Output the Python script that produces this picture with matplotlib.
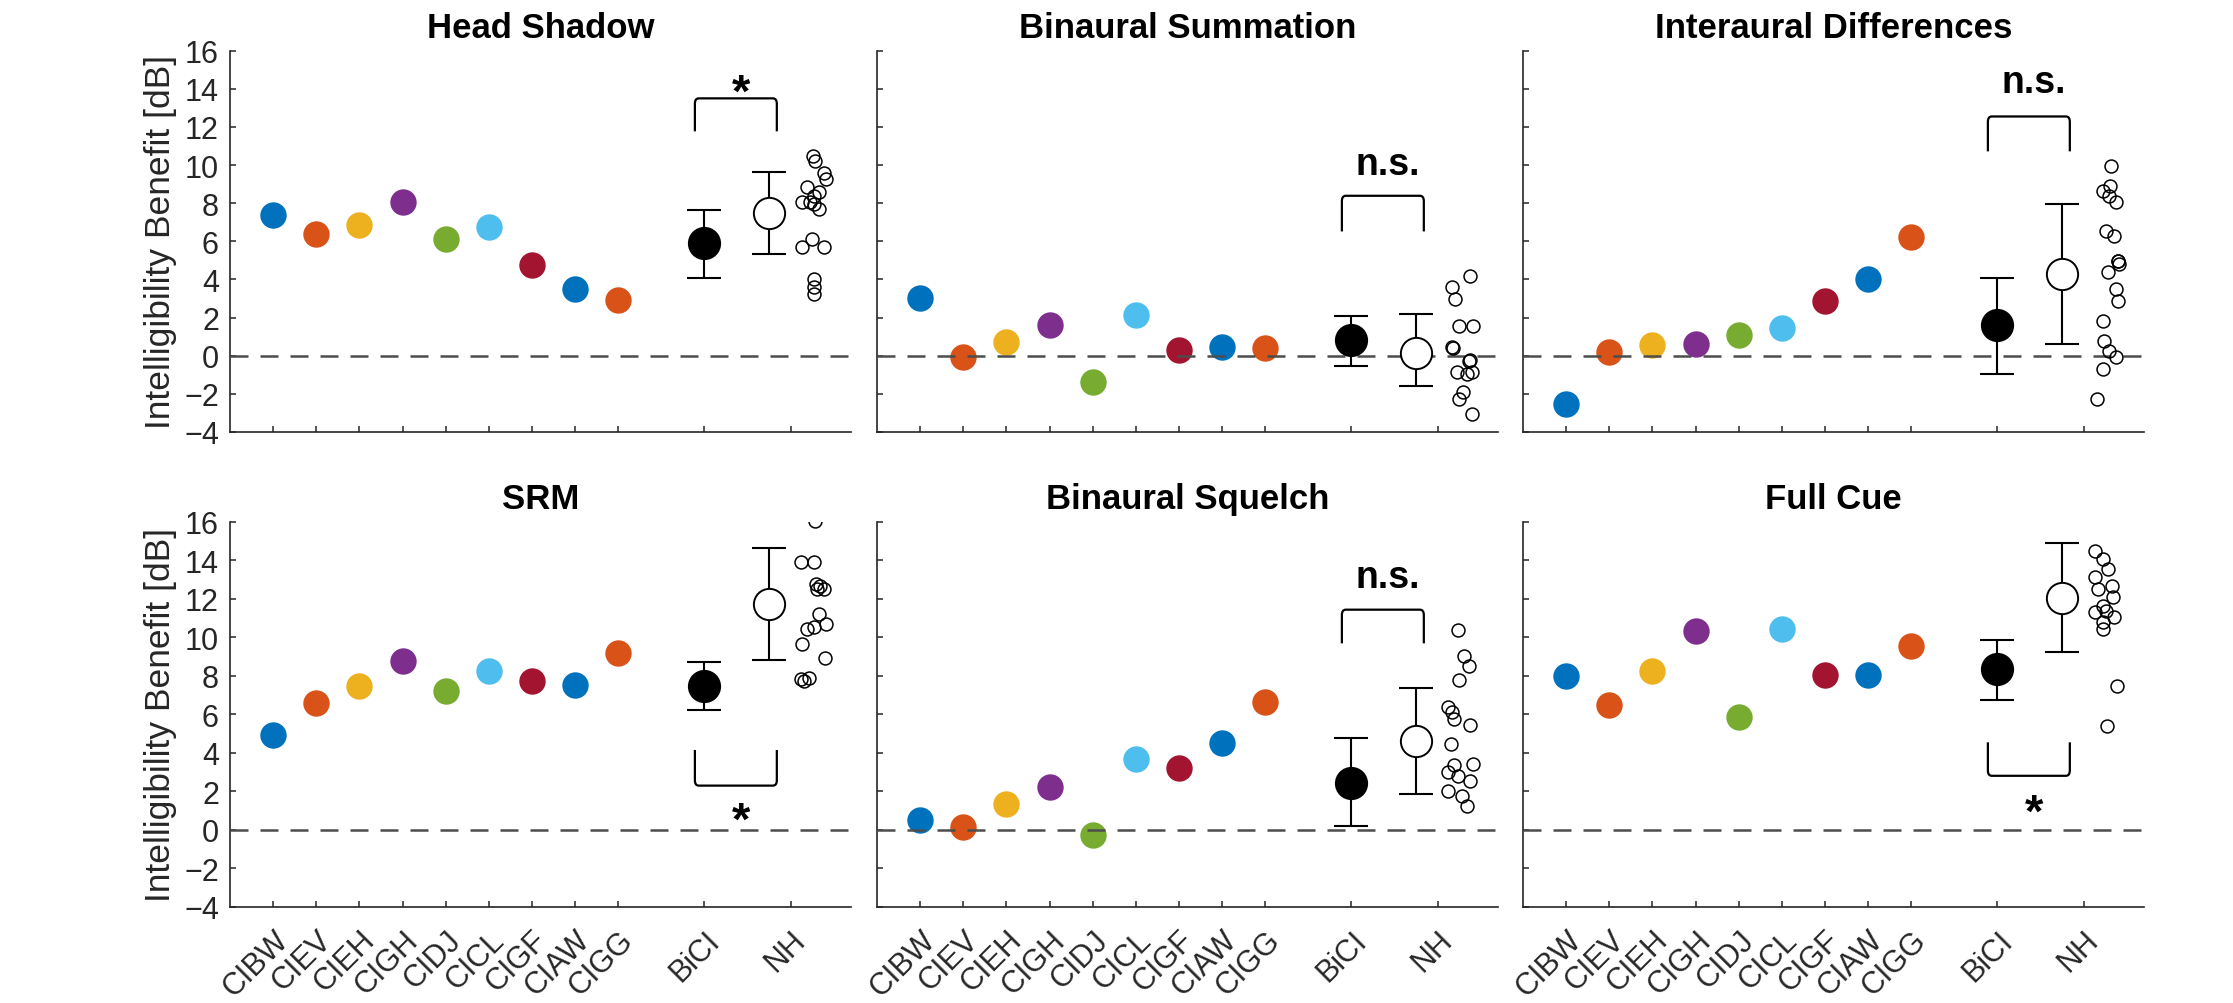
import matplotlib
matplotlib.use('Agg')
import matplotlib.pyplot as plt
from matplotlib.path import Path
from matplotlib.patches import PathPatch
import numpy as np

plt.rcParams['font.family'] = ['Liberation Sans', 'DejaVu Sans']

# ---------------- data ----------------
panel_titles = ["Head Shadow", "Binaural Summation", "Interaural Differences",
                "SRM", "Binaural Squelch", "Full Cue"]
ci_labels = ['CIBW', 'CIEV', 'CIEH', 'CIGH', 'CIDJ', 'CICL', 'CIGF', 'CIAW', 'CIGG']
group_labels = ['BiCI', 'NH']
ci_colors = ['#0072BD', '#D95319', '#EDB120', '#7E2F8E', '#77AC30',
             '#4DBEEE', '#A2142F', '#0072BD', '#D95319']

ci_head_shadow = [7.40, 6.36, 6.85, 8.07, 6.10, 6.74, 4.76, 3.52, 2.91]
ci_summation = [3.05, -0.05, 0.73, 1.60, -1.36, 2.16, 0.31, 0.47, 0.38]
ci_interaural = [-2.53, 0.21, 0.56, 0.64, 1.08, 1.45, 2.87, 4.00, 6.22]
ci_srm = [4.92, 6.58, 7.45, 8.76, 7.21, 8.25, 7.71, 7.50, 9.16]
ci_squelch = [0.52, 0.12, 1.31, 2.23, -0.30, 3.66, 3.23, 4.52, 6.63]
ci_full_cue = [7.98, 6.50, 8.23, 10.34, 5.88, 10.45, 8.02, 8.02, 9.53]

bici_mean = [5.89, 0.80, 1.61, 7.48, 2.45, 8.33]
bici_low = [4.09, -0.52, -0.94, 6.23, 0.19, 6.76]
bici_high = [7.66, 2.10, 4.07, 8.73, 4.78, 9.87]

nh_mean = [7.47, 0.15, 4.28, 11.72, 4.60, 12.06]
nh_low = [5.33, -1.57, 0.63, 8.81, 1.87, 9.25]
nh_high = [9.65, 2.19, 7.95, 14.63, 7.37, 14.88]

nh_head_shadow = [10.49, 10.23, 9.60, 9.27, 8.83, 8.57, 8.40, 8.04, 8.04, 7.69, 7.95,
                  5.68, 6.12, 5.68, 4.02, 3.58, 3.23]
nh_head_shadow_jit = [0.52, 0.56, 0.77, 0.81, 0.39, 0.66, 0.54, 0.27, 0.46, 0.66, 0.54,
                      0.27, 0.49, 0.77, 0.54, 0.54, 0.54]
nh_summation = [4.16, 3.58, 2.97, 1.57, 1.57, 0.44, 0.42, -0.26, -0.20, -0.87, -0.96,
                -0.87, -1.92, -2.27, -3.06]
nh_summation_jit = [0.76, 0.33, 0.41, 0.49, 0.83, 0.33, 0.35, 0.72, 0.74, 0.45, 0.68,
                    0.79, 0.60, 0.49, 0.79]
nh_interaural = [9.97, 8.92, 8.65, 8.39, 8.04, 6.56, 6.29, 4.98, 4.95, 4.81, 4.37,
                 3.50, 2.88, 1.84, 0.79, 0.26, -0.09, -0.70, -2.27]
nh_interaural_jit = [0.63, 0.62, 0.44, 0.59, 0.75, 0.52, 0.71, 0.79, 0.80, 0.83, 0.56,
                     0.75, 0.79, 0.44, 0.48, 0.59, 0.75, 0.44, 0.32]
nh_srm = [16.02, 13.89, 13.92, 12.76, 12.68, 12.50, 12.50, 11.20, 10.68, 10.42, 10.51,
          9.65, 8.92, 7.83, 7.86, 7.74]
nh_srm_jit = [0.56, 0.23, 0.54, 0.58, 0.69, 0.77, 0.62, 0.66, 0.81, 0.39, 0.54,
              0.27, 0.79, 0.23, 0.42, 0.31]
nh_squelch = [10.39, 9.04, 8.52, 7.79, 6.35, 6.10, 5.75, 5.44, 4.45, 3.41, 3.38,
              2.98, 2.55, 2.80, 2.03, 1.77, 1.25]
nh_squelch_jit = [0.47, 0.62, 0.73, 0.50, 0.24, 0.34, 0.39, 0.75, 0.30, 0.82, 0.39,
                  0.24, 0.75, 0.47, 0.24, 0.56, 0.69]
nh_full_cue = [14.49, 14.06, 13.54, 13.11, 12.68, 12.50, 12.07, 11.64, 11.29, 11.38,
               11.03, 10.77, 10.42, 7.48, 5.40]
nh_full_cue_jit = [0.27, 0.46, 0.56, 0.27, 0.65, 0.33, 0.69, 0.46, 0.27, 0.52,
                   0.71, 0.46, 0.46, 0.78, 0.55]

sig_labels = ['*', 'n.s.', 'n.s.', '*', 'n.s.', '*']
bracket_line = [13.50, 8.39, 12.55, 2.29, 11.43, 2.80]
bracket_leg = [11.77, 6.52, 10.72, 4.14, 9.68, 4.54]
sig_text_y = [14.50, 10.03, 14.32, 1.14, 13.10, 1.58]

ci_values = [ci_head_shadow, ci_summation, ci_interaural, ci_srm, ci_squelch, ci_full_cue]
nh_values = [nh_head_shadow, nh_summation, nh_interaural, nh_srm, nh_squelch, nh_full_cue]
nh_jitter = [nh_head_shadow_jit, nh_summation_jit, nh_interaural_jit, nh_srm_jit,
             nh_squelch_jit, nh_full_cue_jit]

# ---------------- layout ----------------
ci_pos = np.arange(1, 10)
bici_pos = 11
nh_tick_pos = 13
nh_mean_pos = 12.5
br_x1, br_x2 = 10.78, 12.68
text_x = 11.85

axis_col = '#262626'

fig = plt.figure(figsize=(22.33, 10.04), dpi=100)
lefts = [230 / 2233, 877 / 2233, 1523 / 2233]
width = 621 / 2233
rows = [(1 - 433 / 1004, (433 - 51.7) / 1004), (1 - 907.7 / 1004, (907.7 - 522.7) / 1004)]


def draw_bracket(ax, x1, x2, yl, yg):
    d = 1 if yl > yg else -1
    rx, ry = 0.09, 0.28
    verts = [(x1, yg), (x1, yl - d * ry), (x1, yl), (x1 + rx, yl),
             (x2 - rx, yl), (x2, yl), (x2, yl - d * ry), (x2, yg)]
    codes = [Path.MOVETO, Path.LINETO, Path.CURVE3, Path.CURVE3,
             Path.LINETO, Path.CURVE3, Path.CURVE3, Path.LINETO]
    ax.add_patch(PathPatch(Path(verts, codes), fill=False, lw=1.6, color='black',
                           zorder=6, capstyle='butt'))


for i in range(6):
    r, c = divmod(i, 3)
    b, h = rows[r]
    ax = fig.add_axes([lefts[c], b, width, h])

    # CI individual dots
    for k in range(9):
        ax.plot(ci_pos[k], ci_values[i][k], 'o', ms=19, mfc=ci_colors[k], mec='none', zorder=2)

    # zero line
    ax.axhline(0, color='#4d4d4d', lw=1.8, dashes=(7.2, 4.8), zorder=3)

    # error bars
    ax.errorbar([bici_pos], [bici_mean[i]],
                yerr=[[bici_mean[i] - bici_low[i]], [bici_high[i] - bici_mean[i]]],
                fmt='none', ecolor='black', elinewidth=1.5, capsize=12, capthick=1.5, zorder=4)
    ax.errorbar([nh_mean_pos], [nh_mean[i]],
                yerr=[[nh_mean[i] - nh_low[i]], [nh_high[i] - nh_mean[i]]],
                fmt='none', ecolor='black', elinewidth=1.5, capsize=12, capthick=1.5, zorder=4)
    ax.plot([bici_pos], [bici_mean[i]], 'o', ms=22.5, mfc='black', mec='black', mew=1.4, zorder=5)
    ax.plot([nh_mean_pos], [nh_mean[i]], 'o', ms=22.5, mfc='white', mec='black', mew=1.4, zorder=5)

    # NH individual
    ax.plot(nh_tick_pos + np.array(nh_jitter[i]), nh_values[i], 'o', ms=9.3, mfc='none',
            mec='black', mew=1.1, zorder=5)

    # significance bracket
    draw_bracket(ax, br_x1, br_x2, bracket_line[i], bracket_leg[i])
    if sig_labels[i] == '*':
        fs, off = 34, 0.55 * 34
    else:
        fs, off = 27, 0.26 * 27
    ax.annotate(sig_labels[i], xy=(text_x, sig_text_y[i]), xytext=(0, -off),
                textcoords='offset points', ha='center', va='baseline',
                fontsize=fs, fontweight='bold', color='black', zorder=7)

    ax.set_xlim(0, 14.4)
    ax.set_ylim(-4, 16)
    ax.set_yticks(np.arange(-4, 17, 2))
    ax.set_xticks(list(ci_pos) + [bici_pos, nh_tick_pos])
    for s in ['top', 'right']:
        ax.spines[s].set_visible(False)
    for s in ['left', 'bottom']:
        ax.spines[s].set_color(axis_col)
        ax.spines[s].set_linewidth(1.2)
    ax.tick_params(direction='in', length=4.5, width=1.1, color=axis_col,
                   labelsize=22, labelcolor=axis_col, pad=8)
    ax.set_title(panel_titles[i], fontsize=25, fontweight='bold', pad=10, color='black')

    if c == 0:
        ax.set_ylabel('Intelligibility Benefit [dB]', fontsize=25.5, color=axis_col, labelpad=5)
    else:
        ax.tick_params(labelleft=False)
    if r == 0:
        ax.tick_params(labelbottom=False)
    else:
        ax.set_xticklabels(ci_labels + group_labels, rotation=45, ha='right',
                           rotation_mode='anchor', va='top')
        ax.tick_params(axis='x', pad=13)

fig.savefig('out.png', dpi=100, facecolor='white')
